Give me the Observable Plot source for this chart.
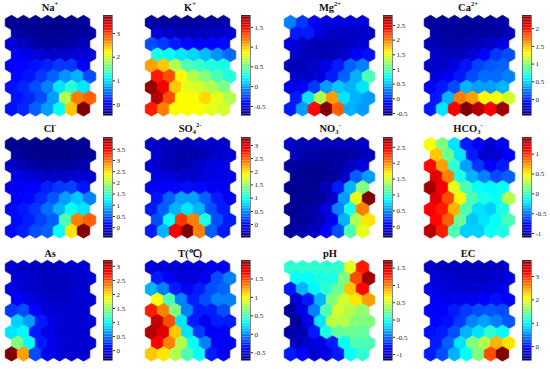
<!DOCTYPE html>
<html><head><meta charset="utf-8">
<script src="https://cdn.jsdelivr.net/npm/d3@7"></script>
<script src="https://cdn.jsdelivr.net/npm/@observablehq/plot@0.6"></script>
<style>
body{margin:0;background:#fff;}
#root{position:relative;width:550px;height:369px;overflow:hidden;font-family:"Liberation Serif","Times New Roman",serif;}
.ttl{position:absolute;font-size:10.5px;font-weight:bold;transform:translate(-50%,-50%);white-space:nowrap;line-height:1;color:#111;}
.ttl sup,.ttl sub{font-size:6.5px;line-height:0;vertical-align:baseline;position:relative;}
.ttl sup{top:-0.75em;}
.ttl sub{top:0.35em;}
.p{position:absolute;}
.p svg{max-width:none !important;display:block;}
</style></head><body><div id="root"></div>
<script>
// 9 rows x 7 columns of SOM units (row-major, top row first; odd rows shifted right)
const naVals = [
-0.38,-0.40,-0.38,-0.38,-0.40,-0.38,-0.35,
-0.30,-0.35,-0.38,-0.38,-0.38,-0.35,-0.32,
-0.10,-0.18,-0.28,-0.32,-0.32,-0.28,-0.22,
0.02,-0.05,-0.10,-0.15,-0.15,-0.10,-0.10,
0.05,0.08,0.12,0.20,0.30,0.30,0.05,
0.09,0.15,0.30,0.47,0.68,0.81,0.38,
0.13,0.22,0.38,0.60,1.02,1.31,1.02,
0.13,0.22,0.38,0.72,1.86,2.71,2.83,
0.13,0.22,0.47,0.72,1.14,2.41,3.76];
const kVals = [
-0.63,-0.65,-0.65,-0.65,-0.65,-0.63,-0.62,
-0.52,-0.55,-0.58,-0.58,-0.58,-0.55,-0.52,
-0.22,-0.28,-0.35,-0.40,-0.42,-0.42,-0.40,
0.28,0.22,0.16,0.12,0.05,-0.05,-0.15,
1.09,0.99,0.66,0.41,0.35,0.30,0.28,
1.42,1.29,0.86,0.66,0.54,0.41,0.30,
1.75,1.50,0.99,0.79,0.74,0.66,0.54,
1.67,1.29,0.86,0.84,0.94,0.79,0.66,
1.42,1.17,0.86,0.86,0.84,0.79,0.74];
const mgVals = [
0.28,0.04,-0.16,-0.25,-0.25,-0.25,-0.25,
-0.06,-0.06,-0.25,-0.33,-0.33,-0.33,-0.33,
-0.25,-0.33,-0.38,-0.38,-0.38,-0.33,-0.27,
-0.33,-0.38,-0.38,-0.38,-0.33,-0.16,-0.10,
-0.38,-0.38,-0.33,-0.22,-0.06,0.18,0.28,
-0.33,-0.33,-0.25,-0.06,0.18,0.45,0.96,
-0.22,-0.16,0.04,0.38,0.52,0.45,0.62,
-0.06,0.62,1.30,1.89,0.62,0.45,0.38,
-0.06,0.38,2.40,2.84,2.09,0.45,0.38];
const caVals = [
-0.36,-0.36,-0.37,-0.37,-0.37,-0.36,-0.34,
-0.34,-0.36,-0.37,-0.37,-0.36,-0.34,-0.30,
-0.30,-0.33,-0.35,-0.33,-0.30,-0.25,-0.19,
-0.25,-0.28,-0.28,-0.22,-0.10,0.05,0.11,
-0.24,-0.24,-0.19,-0.05,0.08,0.14,0.17,
-0.19,-0.12,-0.03,0.11,0.20,0.20,0.26,
-0.12,-0.03,0.11,0.40,0.34,0.34,0.40,
-0.03,0.40,1.67,1.58,1.33,1.30,1.19,
-0.03,0.54,2.03,2.37,2.23,2.03,2.29];
const clVals = [
-0.36,-0.38,-0.38,-0.38,-0.38,-0.36,-0.34,
-0.30,-0.35,-0.38,-0.38,-0.38,-0.35,-0.32,
-0.12,-0.20,-0.28,-0.32,-0.32,-0.28,-0.22,
0.00,-0.05,-0.10,-0.12,-0.12,-0.08,-0.10,
0.05,0.08,0.12,0.25,0.36,0.40,0.20,
0.10,0.15,0.30,0.50,0.81,0.99,0.68,
0.15,0.22,0.36,0.60,0.90,1.26,1.12,
0.15,0.25,0.40,0.54,1.57,2.91,3.05,
0.15,0.25,0.45,0.54,1.26,2.47,4.03];
const so4Vals = [
-0.22,-0.25,-0.28,-0.28,-0.25,-0.22,-0.22,
-0.18,-0.28,-0.32,-0.32,-0.28,-0.22,-0.17,
-0.17,-0.25,-0.32,-0.28,-0.22,-0.12,-0.10,
-0.10,-0.15,-0.20,-0.20,-0.15,-0.10,-0.08,
-0.05,-0.04,0.00,0.02,0.00,-0.04,-0.08,
0.05,0.34,0.57,0.57,0.34,0.08,-0.04,
0.08,0.34,0.65,0.84,0.65,0.27,0.08,
0.27,0.95,2.62,2.35,1.03,0.27,0.08,
0.08,0.65,2.85,3.30,2.35,0.34,0.08];
const no3Vals = [
-0.12,-0.17,-0.17,-0.17,-0.17,-0.17,-0.14,
-0.17,-0.21,-0.24,-0.24,-0.24,-0.21,-0.14,
-0.24,-0.26,-0.26,-0.26,-0.24,-0.14,-0.05,
-0.26,-0.28,-0.28,-0.26,-0.14,0.35,0.54,
-0.28,-0.28,-0.28,-0.17,0.13,0.61,1.24,
-0.28,-0.28,-0.24,-0.12,0.54,1.55,2.81,
-0.28,-0.26,-0.21,-0.06,0.45,0.92,2.02,
-0.26,-0.24,-0.17,0.00,0.61,1.39,1.71,
-0.24,-0.21,-0.14,0.05,0.29,1.08,1.55];
const hco3Vals = [
0.46,0.16,-0.22,-0.72,-0.80,-0.90,-0.80,
0.61,0.11,-0.22,-0.72,-0.90,-0.90,-0.80,
1.09,0.71,-0.04,-0.39,-0.65,-0.80,-0.72,
1.17,0.79,-0.09,-0.34,-0.47,-0.60,-0.55,
1.34,1.12,0.41,0.03,-0.14,-0.17,-0.14,
1.17,0.92,0.49,0.03,-0.09,-0.14,0.29,
1.12,1.04,0.66,0.03,-0.22,-0.27,-0.09,
1.09,0.87,0.11,-0.29,-0.22,-0.14,0.03,
1.29,1.04,0.03,-0.27,-0.27,-0.14,-0.09];
const asVals = [
-0.07,-0.10,-0.12,-0.12,-0.10,-0.07,-0.05,
-0.05,-0.10,-0.12,-0.12,-0.12,-0.10,-0.05,
0.00,-0.05,-0.10,-0.12,-0.12,-0.10,-0.05,
0.08,0.01,-0.05,-0.10,-0.10,-0.07,-0.05,
0.29,0.36,0.08,-0.05,-0.07,-0.07,-0.05,
0.82,0.65,0.18,0.01,-0.07,-0.07,-0.05,
0.90,0.97,0.18,0.01,-0.05,-0.07,-0.07,
1.43,1.00,0.18,0.01,-0.05,-0.07,-0.07,
3.21,2.21,0.36,0.05,-0.05,-0.07,-0.05];
const tVals = [
-0.47,-0.47,-0.47,-0.47,-0.47,-0.42,-0.40,
-0.30,-0.40,-0.47,-0.47,-0.42,-0.17,-0.03,
0.10,-0.03,-0.30,-0.40,-0.30,-0.17,-0.11,
0.97,0.51,-0.03,-0.30,-0.17,-0.03,-0.03,
1.59,1.32,0.65,-0.03,-0.30,-0.30,-0.17,
1.81,1.46,0.24,-0.30,-0.40,-0.30,-0.30,
1.86,1.73,1.13,0.24,-0.22,-0.40,-0.40,
1.67,1.32,0.78,0.32,-0.03,-0.40,-0.40,
1.13,1.05,0.78,0.51,0.32,-0.30,-0.40];
const phVals = [
0.04,0.04,0.04,0.04,0.04,0.56,1.29,
-0.07,-0.07,-0.01,-0.01,0.28,1.14,1.63,
-0.74,-0.30,-0.10,0.04,0.22,0.80,1.34,
-0.94,-0.74,-0.30,0.28,0.51,0.71,0.91,
-1.08,-0.88,-0.45,0.13,0.51,0.42,0.33,
-1.08,-0.88,-0.16,0.45,0.42,0.28,0.28,
-1.05,-1.03,-0.74,-0.01,0.19,0.22,0.19,
-1.00,-0.94,-0.88,-0.74,-0.07,0.13,0.13,
-0.74,-0.82,-0.94,-0.88,-0.74,-0.07,0.04];
const ecVals = [
-0.28,-0.30,-0.32,-0.32,-0.32,-0.30,-0.28,
-0.22,-0.26,-0.30,-0.30,-0.30,-0.28,-0.22,
-0.14,-0.20,-0.24,-0.24,-0.24,-0.20,-0.14,
-0.10,-0.12,-0.14,-0.12,-0.06,0.00,-0.05,
-0.06,-0.06,0.05,0.18,0.26,0.30,0.26,
-0.06,0.00,0.18,0.48,0.61,0.48,0.30,
0.00,0.05,0.26,0.69,0.90,1.20,1.03,
0.05,0.35,0.90,1.55,1.76,2.40,2.19,
0.05,0.26,0.69,1.03,1.55,2.83,3.68];

const titles = ["Na<sup>+</sup>","K<sup>+</sup>","Mg<sup>2+</sup>","Ca<sup>2+</sup>",
  "Cl<sup>-</sup>","SO<sub>4</sub><sup>2-</sup>","NO<sub>3</sub><sup>-</sup>","HCO<sub>3</sub><sup>-</sup>",
  "As","T(℃)","pH","EC"];
const colorRanges = [[-0.46,3.76],[-0.73,1.80],[-0.57,2.84],[-0.45,2.37],
  [-0.44,4.03],[-0.49,3.30],[-0.34,2.81],[-1.10,1.42],
  [-0.35,3.21],[-0.71,2.00],[-1.17,1.72],[-0.59,3.68]];
const tickLists = [[0,1,2,3],[-0.5,0,0.5,1,1.5],[-0.5,0,0.5,1,1.5,2,2.5],[0,0.5,1,1.5,2],
  [0,0.5,1,1.5,2,2.5,3,3.5],[0,0.5,1,1.5,2,2.5,3],[0,0.5,1,1.5,2,2.5],[-1,-0.5,0,0.5,1],
  [0,0.5,1,1.5,2,2.5,3],[-0.5,0,0.5,1,1.5],[-1,-0.5,0,0.5,1,1.5],[0,1,2,3]];
const panelVals = [naVals,kVals,mgVals,caVals,clVals,so4Vals,no3Vals,hco3Vals,asVals,tVals,phVals,ecVals];

// layout
const gridLeft = [5,145,284,424];
const barLeft = [103,241,383,522];
const rowTop = [15,137,260];
const titleX = [50,190,330,468];
const titleY = [8,129,254];

const jet = t => {
  const c = x => Math.max(0, Math.min(1, x));
  const r = c(1.5 - Math.abs(4*t - 3)), g = c(1.5 - Math.abs(4*t - 2)), b = c(1.5 - Math.abs(4*t - 1));
  return `rgb(${Math.round(r*255)},${Math.round(g*255)},${Math.round(b*255)})`;
};

const root = document.getElementById("root");
function place(el, left, top, w, h) {
  const d = document.createElement("div");
  d.className = "p"; d.style.left = left + "px"; d.style.top = top + "px";
  d.style.width = w + "px"; d.style.height = h + "px";
  d.appendChild(el); root.appendChild(d);
}

panelVals.forEach((vals, p) => {
  const pr = Math.floor(p / 4), pc = p % 4;
  const [lo, hi] = colorRanges[p];
  const color = {type: "linear", domain: [lo, hi], interpolate: jet, clamp: true};
  const cells = vals.map((v, i) => ({row: Math.floor(i / 7), col: i % 7, v}));

  const hex = Plot.plot({
    width: 100, height: 106, margin: 0,
    style: {background: "transparent", overflow: "visible"},
    x: {domain: [0, 6.5], range: [10, 88], axis: null},
    y: {domain: [0, 8], range: [10, 96.4], axis: null},
    color,
    marks: [
      Plot.dot(cells, {x: d => d.col + (d.row % 2 ? 0.5 : 0), y: "row", r: 6.25, symbol: "hexagon",
        fill: "v", stroke: "v", strokeWidth: 0.8})
    ]
  });
  place(hex, gridLeft[pc] - 4, rowTop[pr] - 3, 100, 106);

  const n = 64;
  const bar = d3.range(n).map(i => ({y1: lo + (hi - lo) * i / n, y2: lo + (hi - lo) * (i + 1) / n, v: lo + (hi - lo) * (i + 0.5) / n}));
  const cb = Plot.plot({
    width: 40, height: 108,
    marginLeft: 1, marginRight: 30, marginTop: 4, marginBottom: 4,
    style: {background: "transparent", overflow: "visible", fontSize: "7px", fontFamily: "Liberation Serif, serif", color: "#222"},
    x: {domain: [0, 1], axis: null},
    y: {domain: [lo, hi], axis: "right", ticks: tickLists[p], tickSize: 2, tickPadding: 2, tickFormat: d => String(d), label: null},
    color,
    marks: [
      Plot.rect(bar, {x1: 0, x2: 1, y1: "y1", y2: "y2", fill: "v"}),
      Plot.frame({stroke: "#333", strokeWidth: 0.6})
    ]
  });
  place(cb, barLeft[pc] - 1, rowTop[pr] - 4, 40, 108);

  const t = document.createElement("div");
  t.className = "ttl"; t.innerHTML = titles[p];
  t.style.left = titleX[pc] + "px"; t.style.top = titleY[pr] + "px";
  root.appendChild(t);
});
</script>
</body></html>
